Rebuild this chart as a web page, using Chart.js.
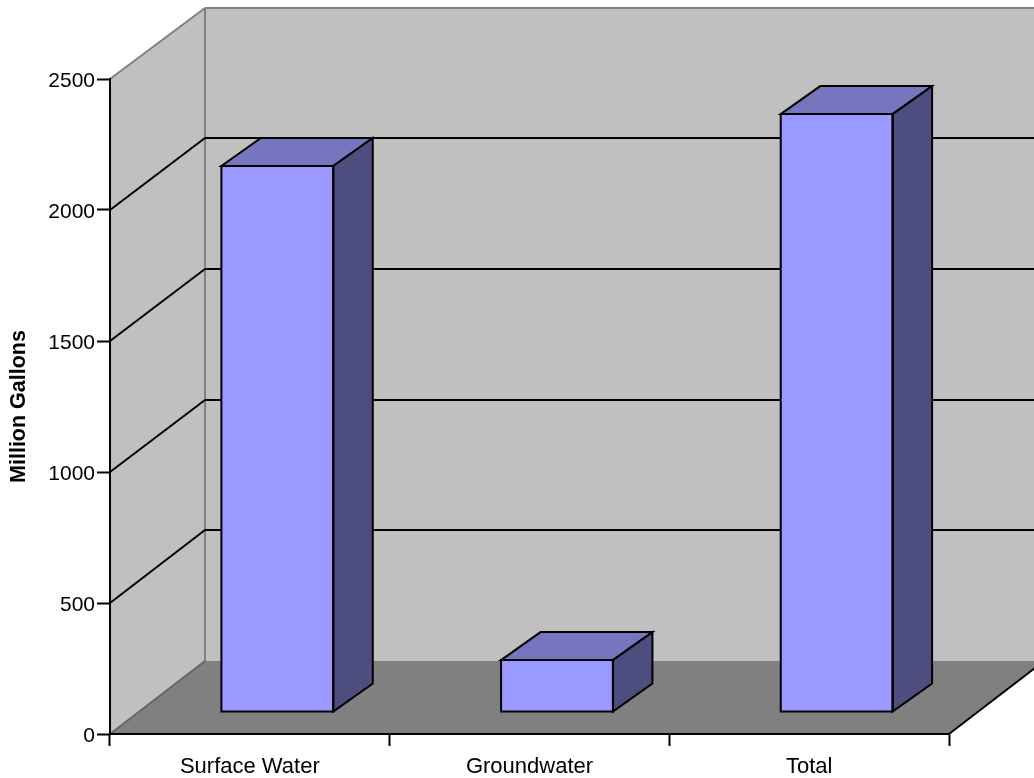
<!DOCTYPE html>
<html>
<head>
<meta charset="utf-8">
<title>Million Gallons</title>
<script src="https://cdn.jsdelivr.net/npm/chart.js@4"></script>
<style>
  html, body { margin: 0; padding: 0; background: #fff; }
  canvas { display: block; }
</style>
</head>
<body>
<canvas id="chart" width="1034" height="778"></canvas>
<script>
// Chart data
const categories = ["Surface Water", "Groundwater", "Total"]
const gallons = [2084, 198, 2282]
const yTickStep = 500
const yMax = 2500
const yTitle = "Million Gallons"

// 3D look
const wallDx = 95
const barShiftX = 27.5
const barShiftY = -22
const barDepthX = 39.5
const barDepthY = -28
const fontFamily = "'Liberation Sans', Arial, sans-serif"

// The back wall is a little shorter than the front axis
function backY(area, py) {
  return 661 - (area.bottom - py) * (653 / 655)
}

function strokeLine(ctx, x1, y1, x2, y2, color, width) {
  ctx.strokeStyle = color
  ctx.lineWidth = width
  ctx.beginPath()
  ctx.moveTo(x1, y1)
  ctx.lineTo(x2, y2)
  ctx.stroke()
}

function face(ctx, points, fill) {
  ctx.fillStyle = fill
  ctx.strokeStyle = "#000"
  ctx.lineWidth = 2
  ctx.lineJoin = "miter"
  ctx.beginPath()
  points.forEach((p, i) => (i ? ctx.lineTo(p[0], p[1]) : ctx.moveTo(p[0], p[1])))
  ctx.closePath()
  if (fill) ctx.fill()
  ctx.stroke()
}

const box3d = {
  id: "box3d",
  // Tick labels sit slightly below their tick marks
  afterLayout(chart) {
    chart.scales.y.getLabelItems().forEach((item) => {
      item.options.translation[1] += 2
    })
  },
  // Walls, floor and gridlines go under everything
  beforeDraw(chart) {
    const { ctx, chartArea: area, scales } = chart
    const left = area.left, right = area.right, top = area.top, bottom = area.bottom
    const backLeft = left + wallDx
    const backRight = right + wallDx
    const backTop = backY(area, top)
    const backBottom = backY(area, bottom)

    ctx.save()
    ctx.fillStyle = "#C0C0C0"
    ctx.fillRect(backLeft, backTop, backRight - backLeft, backBottom - backTop)
    ctx.beginPath()
    ctx.moveTo(left, bottom)
    ctx.lineTo(left, top)
    ctx.lineTo(backLeft, backTop)
    ctx.lineTo(backLeft, backBottom)
    ctx.closePath()
    ctx.fill()

    ctx.fillStyle = "#808080"
    ctx.beginPath()
    ctx.moveTo(left, bottom)
    ctx.lineTo(right, bottom)
    ctx.lineTo(backRight, backBottom)
    ctx.lineTo(backLeft, backBottom)
    ctx.closePath()
    ctx.fill()

    strokeLine(ctx, left, top, backLeft, backTop, "#808080", 2)
    strokeLine(ctx, backLeft, backTop, backRight, backTop, "#808080", 2)
    strokeLine(ctx, backLeft, backTop, backLeft, backBottom, "#808080", 2)
    strokeLine(ctx, left, bottom, backLeft, backBottom, "#666", 2)
    strokeLine(ctx, right, bottom, backRight, backBottom, "#000", 2)

    scales.y.ticks.forEach((tick) => {
      if (tick.value === 0 || tick.value === yMax) return
      const py = scales.y.getPixelForValue(tick.value)
      const by = Math.round(backY(area, py) - 0.3)
      strokeLine(ctx, left, py, backLeft, by, "#000", 2)
      strokeLine(ctx, backLeft, by, backRight, by, "#000", 2)
    })
    ctx.restore()
  },
  // Bars are pushed into the box, the library still fills the front faces
  beforeDatasetsDraw(chart) {
    chart.ctx.save()
    chart.ctx.translate(barShiftX, barShiftY)
  },
  afterDatasetsDraw(chart) {
    const ctx = chart.ctx
    chart.getDatasetMeta(0).data.forEach((bar) => {
      const { x, y, base, width } = bar.getProps(["x", "y", "base", "width"], true)
      const l = x - width / 2
      const r = x + width / 2
      face(ctx, [[l, y], [r, y], [r + barDepthX, y + barDepthY], [l + barDepthX, y + barDepthY]], "#7676BF")
      face(ctx, [[r, y], [r + barDepthX, y + barDepthY], [r + barDepthX, base + barDepthY], [r, base]], "#4D4D80")
      face(ctx, [[l, y], [r, y], [r, base], [l, base]], null)
    })
    ctx.restore()
  },
}

new Chart(document.getElementById("chart"), {
  type: "bar",
  plugins: [box3d],
  data: {
    labels: categories,
    datasets: [
      {
        data: gallons,
        backgroundColor: "#9999FF",
        borderWidth: 0,
        clip: false,
        barPercentage: 1,
        categoryPercentage: 0.4,
      },
    ],
  },
  options: {
    responsive: false,
    animation: false,
    devicePixelRatio: 1,
    layout: { padding: { top: 79, right: 85, left: 0, bottom: 0 } },
    plugins: {
      legend: { display: false },
      tooltip: { enabled: false },
    },
    scales: {
      x: {
        afterFit: (scale) => { scale.height = 44 },
        border: { display: true, color: "#000", width: 2 },
        grid: { drawOnChartArea: false, drawTicks: true, tickLength: 12, tickColor: "#000", tickWidth: 2 },
        ticks: {
          color: "#000",
          padding: 8,
          maxRotation: 0,
          font: { family: fontFamily, size: 22 },
        },
      },
      y: {
        min: 0,
        max: yMax,
        afterFit: (scale) => { scale.width = 110 },
        border: { display: true, color: "#000", width: 2 },
        grid: { drawOnChartArea: false, drawTicks: true, tickLength: 13, tickColor: "#000", tickWidth: 2 },
        ticks: {
          stepSize: yTickStep,
          color: "#000",
          padding: 2,
          callback: (value) => String(value),
          font: { family: fontFamily, size: 21 },
        },
        title: {
          display: true,
          text: yTitle,
          color: "#000",
          padding: { top: 6, bottom: 0 },
          font: { family: fontFamily, size: 21.5, weight: "bold" },
        },
      },
    },
  },
})
</script>
</body>
</html>
